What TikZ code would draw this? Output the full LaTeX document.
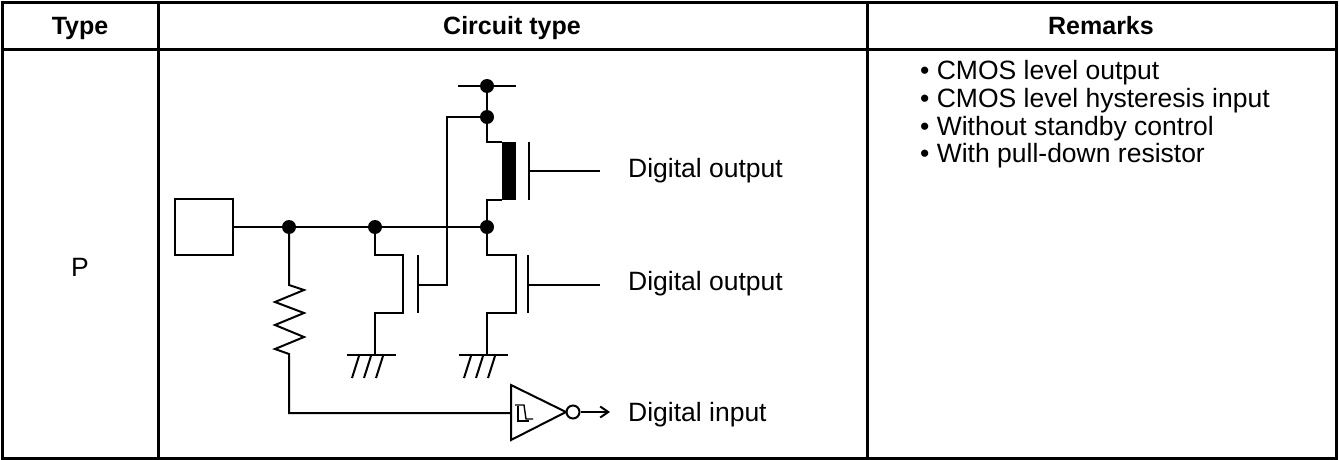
\documentclass[tikz,border=0pt]{standalone}
\usepackage{fontspec}
\setmainfont{Liberation Sans}
\usetikzlibrary{arrows.meta}
\begin{document}
\begin{tikzpicture}[x=1pt, y=-1pt,
                grid/.style={line width=3pt},
                wire/.style={line width=2pt},
                head/.style={font=\fontsize{25}{30}\selectfont\bfseries, anchor=base},
                cell/.style={font=\fontsize{26.5}{30}\selectfont, anchor=base},
                txt/.style={font=\fontsize{26.5}{30}\selectfont, anchor=base west, inner xsep=28pt, inner ysep=0pt},
                remark/.style={font=\fontsize{26.5}{30}\selectfont, anchor=base west, inner sep=0pt},
                dot/.style={circle, fill=black, inner sep=0pt, minimum size=14pt}]

                \useasboundingbox (0,0) rectangle (1339,460);

                \draw[grid] (2,3) rectangle (1336,458);
                \draw[grid] (2,50) -- (1336,50);
                \draw[grid] (158,3) -- (158,458);
                \draw[grid] (867,3) -- (867,458);

                \node[head] (htype) at (80,35) {Type};
                \node[head] (hcircuit) at (512,35) {Circuit type};
                \node[head] (hremarks) at (1101,35) {Remarks};
                \node[cell] (ptype) at (80,276) {P};

                \node[remark] (rem1) at (920,80) {• CMOS level output};
                \node[remark] (rem2) at (920,107.5) {• CMOS level hysteresis input};
                \node[remark] (rem3) at (920,135) {• Without standby control};
                \node[remark] (rem4) at (920,162) {• With pull-down resistor};

                \node[draw, wire, minimum width=58pt, minimum height=56pt, inner sep=0pt] (pad) at (204,227) {};
                \node[dot] (j1) at (289,227) {};
                \node[dot] (j2) at (375,227) {};
                \node[dot] (j3) at (487,227) {};
                \node[dot] (vdd) at (487,86) {};
                \node[dot] (j4) at (487,117) {};
                \coordinate (railL) at (458,86);
                \coordinate (railR) at (516,86);

                \node[txt] (pout) at (600,177) {Digital output};
                \node[txt] (nout) at (600,290) {Digital output};
                \node[txt, inner xsep=18pt] (din) at (610,421) {Digital input};

                \draw[wire] (pad.east) -- (j1) -- (j2) -- (j3);
                \draw[wire] (railL) -- (railR);
                \draw[wire] (vdd) -- (j4) -- (487,142) -- (502,142);
                \fill (502,142) rectangle (516,200);
                \draw[wire] (502,200) -- (487,200) -- (j3);
                \draw[wire] (529,142) -- (529,200);
                \draw[wire] (529,171) -- (pout.west |- 0,171);

                \draw[wire] (j3) -- (487,255) -- (516,255) -- (516,313) -- (487,313) -- (487,355);
                \draw[wire] (528,255) -- (528,313);
                \draw[wire] (528,285) -- (nout.west |- 0,285);

                \draw[wire] (j2) -- (375,255) -- (403,255) -- (403,313) -- (375,313) -- (375,355);
                \draw[wire] (418,255) -- (418,313);
                \draw[wire] (418,285) -- (447,285) -- (447,117) -- (j4);

                \foreach \gx in {375,487} {
                    \draw[wire] (\gx-28,355) -- (\gx+21,355);
                    \foreach \h in {-23,-11,1}
                        \draw[wire] (\gx+\h,378) -- (\gx+\h+7,356);
                }

                \coordinate (inA) at (511,413);
                \draw[wire] (j1) -- (289,285) -- (304,290) -- (275,302) -- (304,313) -- (275,325)
                    -- (304,337) -- (275,349) -- (289,354) -- (289,413) -- (inA);
                \draw[wire, line join=miter] (511,385) -- (566,412) -- (511,440) -- cycle;
                \draw[line width=1.4pt] (515,405) -- (524,405) -- (526,419) -- (533,419);
                \draw[line width=1.4pt] (518,406) -- (518,421) -- (529,421);
                \node[draw, wire, circle, minimum size=13pt, inner sep=0pt] (bub) at (573,412) {};
                \draw[wire, -{Straight Barb[length=8pt, width=11pt]}] (bub) -- (din.west |- 0,412);
            \end{tikzpicture}
\end{document}
